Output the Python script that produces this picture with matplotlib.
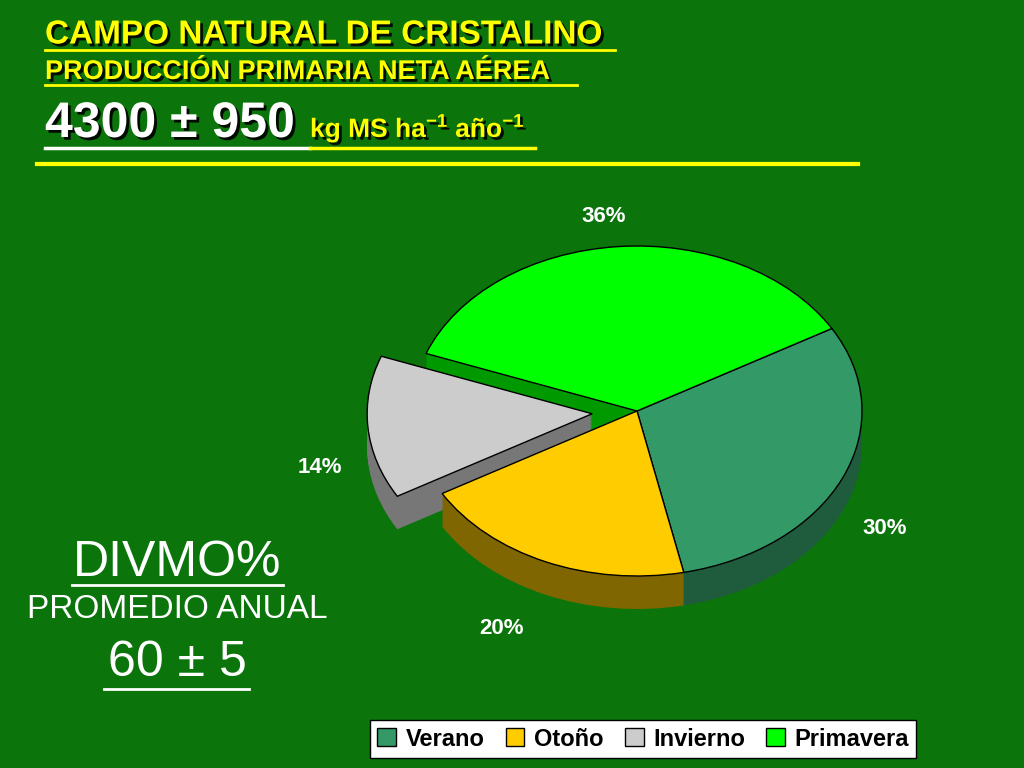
import matplotlib
matplotlib.use("Agg")
import matplotlib.pyplot as plt
import matplotlib.patheffects as pe
from matplotlib.lines import Line2D
import numpy as np

plt.rcParams["font.family"] = "Liberation Sans"

labels = ["Verano", "Otoño", "Invierno", "Primavera"]
values = [30, 20, 14, 36]
colors = ["#339966", "#ffcc00", "#cccccc", "#00ff00"]
side_colors = ["#1f5c3d", "#806600", "#777777", "#009900"]
explode = [0, 0, 0.2, 0]

BG = "#0b740b"
fig = plt.figure(figsize=(10.24, 7.68), dpi=100, facecolor=BG)
shadow = [pe.withSimplePatchShadow(offset=(2, -2), shadow_rgbFace="black", alpha=0.9)]

def fx(px):
    return px / 1024

def fy(py):
    return 1 - py / 768

# title block
fig.text(fx(45), fy(35), "CAMPO NATURAL DE CRISTALINO", color="#ffff00", fontsize=24,
         fontweight="bold", va="center", path_effects=shadow)
fig.add_artist(Line2D([fx(45), fx(615)], [fy(50), fy(50)], color="#ffff00", lw=2))
fig.text(fx(45), fy(72), "PRODUCCIÓN PRIMARIA NETA AÉREA", color="#ffff00", fontsize=19.5,
         fontweight="bold", va="center", path_effects=shadow)
fig.add_artist(Line2D([fx(45), fx(577)], [fy(85), fy(85)], color="#ffff00", lw=2))
fig.text(fx(45), fy(124), "4300 ± 950", color="white", fontsize=36,
         fontweight="bold", va="center", path_effects=shadow)
fig.text(fx(310), fy(128), "kg MS ha$^{\\mathregular{-1}}$ año$^{\\mathregular{-1}}$", color="#ffff00",
         fontsize=19, fontweight="bold", va="center", path_effects=shadow)
fig.add_artist(Line2D([fx(45), fx(310)], [fy(148), fy(148)], color="white", lw=2.5))
fig.add_artist(Line2D([fx(310), fx(535)], [fy(148), fy(148)], color="#ffff00", lw=2.5))
fig.add_artist(Line2D([fx(37), fx(858)], [fy(164), fy(164)], color="#ffff00", lw=3))

# left block
fig.text(fx(177), fy(563), "DIVMO%", color="white", fontsize=36, ha="center", va="center")
fig.add_artist(Line2D([fx(72), fx(283)], [fy(585), fy(585)], color="white", lw=2))
fig.text(fx(177), fy(610), "PROMEDIO ANUAL", color="white", fontsize=24, ha="center", va="center")
fig.text(fx(177), fy(663), "60 ± 5", color="white", fontsize=36, ha="center", va="center")
fig.add_artist(Line2D([fx(104), fx(249)], [fy(689), fy(689)], color="white", lw=2))

# pie axes: x unit 225 px, y unit 165 px, centre (637, 411)
ax = fig.add_axes([fx(300), fy(680), fx(650), (680 - 180) / 768])
ax.set_facecolor("none")
start, depth = 30, 0.2
for k in np.linspace(depth, 0.005, 25):
    ax.pie(values, colors=side_colors, explode=explode, startangle=start,
           counterclock=False, center=(0, -k), frame=True, wedgeprops=dict(linewidth=0))
wedges, _, pcts = ax.pie(values, colors=colors, explode=explode, startangle=start,
                         counterclock=False, autopct="%d%%", frame=True,
                         wedgeprops=dict(edgecolor="black", linewidth=1),
                         textprops=dict(color="white", fontsize=16, fontweight="bold"))
label_pos = [(1.10, -0.71), (-0.6, -1.32), (-1.41, -0.34), (-0.15, 1.18)]
for t, p in zip(pcts, label_pos):
    t.set_position(p)
ax.set_aspect("auto")
ax.set_xlim((300 - 637) / 225, (950 - 637) / 225)
ax.set_ylim(-(680 - 411) / 165, (411 - 180) / 165)
ax.axis("off")

leg = fig.legend(wedges, labels, loc="center", bbox_to_anchor=(fx(643), fy(739)), ncol=4,
                 frameon=True, fancybox=False, edgecolor="black", facecolor="white",
                 framealpha=1, handlelength=0.8, handleheight=0.8, columnspacing=0.9,
                 handletextpad=0.4, borderpad=0.3,
                 prop=dict(size=17, weight="bold"))

fig.savefig("out.png", dpi=100, facecolor=BG)
